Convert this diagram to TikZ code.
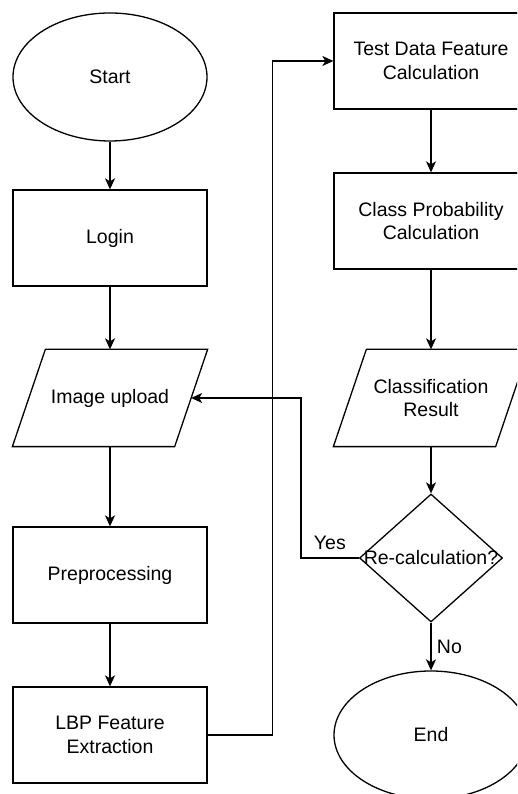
\documentclass[tikz,border=0pt]{standalone}
\usepackage{fontspec}
\setmainfont{Liberation Sans}
\usetikzlibrary{positioning,shapes.geometric,arrows.meta}

\begin{document}
\begin{tikzpicture}[x=1pt,y=1pt,line width=1.3pt,
                       every node/.style={font=\fontsize{19.5}{23.5}\selectfont},
                       term node/.style={ellipse,draw,minimum width=194pt,
                                         minimum height=128pt,inner sep=0pt},
                       proc node/.style={rectangle,draw,minimum width=194pt,
                                         minimum height=96pt,align=center},
                       io node/.style={rectangle,minimum width=161pt,
                                       minimum height=96pt,align=center},
                       decision node/.style={diamond,draw,minimum width=143pt,
                                             minimum height=128pt,inner sep=0pt},
                       arr/.style={-{Stealth[length=11pt,width=10pt,inset=3pt]}}
                           ]
   \useasboundingbox (0,0) rectangle (517,794);
   \clip (0,0) rectangle (517,794);
   % left column
   \node[term node] (start) at (110,717) {Start};
   \node[proc node] (login) at (110,556) {Login};
   \node[io node] (upload) at (110,396) {Image upload};
   \node[proc node] (prep) at (110,219) {Preprocessing};
   \node[proc node] (lbp) at (110,59) {LBP Feature\\Extraction};
   % right column
   \node[proc node] (test) at (431,733) {Test Data Feature\\Calculation};
   \node[proc node] (prob) at (431,573) {Class Probability\\Calculation};
   \node[io node] (result) at (431,396) {Classification\\Result};
   \node[decision node,label={center:Re-calculation?}] (recalc) at (431,236) {};
   \node[term node] (end) at (431,59) {End};
   % slanted outline of the input/output boxes
   \foreach \n in {upload,result}
      \draw ([xshift=16.5pt]\n.north west) -- ([xshift=16.5pt]\n.north east)
         -- ([xshift=-16.5pt]\n.south east) -- ([xshift=-16.5pt]\n.south west) -- cycle;
      \path[arr]%
    (start) edge (login)
    (login) edge (upload)
    (upload) edge (prep)
    (prep) edge (lbp)
    (test) edge (prob)
    (prob) edge (result)
    (result) edge (recalc);
   \draw[arr] (lbp.east) -- ++(65,0) |- (test.west);
   \draw[arr] (recalc.west) -- node[above=4pt] {Yes} ++(-58,0) |- (upload.east);
   \draw[arr] (recalc.south) -- node[right=2pt] {No} (end.north);
      \end{tikzpicture}
\end{document}
